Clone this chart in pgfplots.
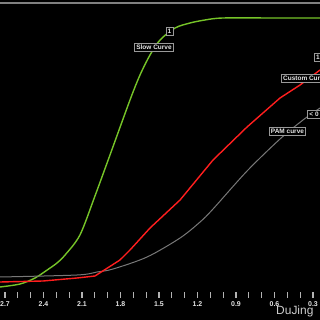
\documentclass[border=0pt]{standalone}
\usepackage{fontspec}
\setmainfont{Liberation Sans}
\usepackage{pgfplots}
\pgfplotsset{compat=1.18}
\definecolor{cgreen}{RGB}{118,196,40}
\definecolor{cred}{RGB}{255,30,30}
\definecolor{cgray}{RGB}{120,120,120}
\begin{document}
\begin{tikzpicture}[x=1bp,y=1bp]
\useasboundingbox (0,0) rectangle (320,320);
\clip (0,0) rectangle (320,320);
\fill[black] (0,0) rectangle (320,320);
\begin{axis}[at={(0,25)}, anchor=south west,
  width=320bp, height=292bp, scale only axis, clip=false,
  xmin=0.2455, xmax=2.739, x dir=reverse,
  ymin=0, ymax=292,
  axis line style={draw=none},
  xtick={0.3,0.6,0.9,1.2,1.5,1.8,2.1,2.4,2.7},
  minor x tick num=2,
  xtick pos=bottom, ytick=\empty,
  tick align=center,
  major tick length=5bp, minor tick length=5bp,
  every tick/.style={white!70!black, line width=1.3bp},
  /pgf/number format/assume math mode=true,
  /pgf/number format/.cd, fixed, fixed zerofill, precision=1, /pgfplots/.cd,
  xticklabel style={text=white!90!black, font=\fontsize{7}{8}\selectfont\bfseries, yshift=-1bp},
]
\draw[white!50!black, line width=2.5bp] (rel axis cs:0,1) -- (rel axis cs:1,1);
% green: Slow Curve
\addplot[cgreen, line width=1.4bp, smooth, no marks] coordinates {
 (2.739,8) (2.583,11) (2.466,17) (2.349,27) (2.295,32) (2.232,40) (2.116,60)
 (1.999,99) (1.882,140) (1.726,195) (1.648,220) (1.570,240) (1.492,255)
 (1.375,267) (1.258,272) (1.142,275) (1.001,277) (0.6,277) (0.245,277)};
% gray: PAM curve
\addplot[cgray, line width=1.0bp, smooth, no marks] coordinates {
 (2.739,18) (2.139,20) (1.983,23) (1.858,26) (1.593,38) (1.336,57) (1.180,73)
 (1.079,86) (0.814,124) (0.557,156) (0.378,175) (0.245,187)};
% red: Custom Curve
\addplot[cred, line width=1.4bp, no marks] coordinates {
 (2.739,13) (2.404,14) (2.139,17) (1.999,19) (1.804,35) (1.726,45) (1.570,67)
 (1.336,95) (1.079,135) (0.814,168) (0.557,197) (0.401,210) (0.245,225)};
\tikzset{lbl/.style={draw=white!60!black, fill=black, text=white!90!black,
  font=\fontsize{6.5}{7}\selectfont\bfseries, inner sep=1.8bp, line width=0.8bp}}
\node[lbl] at (axis cs:1.539,247.5) {Slow Curve};
\node[lbl] at (axis cs:1.418,263.5) {1};
\node[lbl] at (axis cs:0.36,217) {Custom Curve};
\node[lbl] at (axis cs:0.261,238) {1};
\node[lbl] at (axis cs:0.499,164) {PAM curve};
\node[lbl, anchor=west] at (axis cs:0.345,181) {< 0};
\node[anchor=west, text=white!80!black, font=\fontsize{12}{13}\selectfont, inner sep=0pt] at (axis cs:0.588,-16.5) {DuJing};
\end{axis}
\end{tikzpicture}
\end{document}
